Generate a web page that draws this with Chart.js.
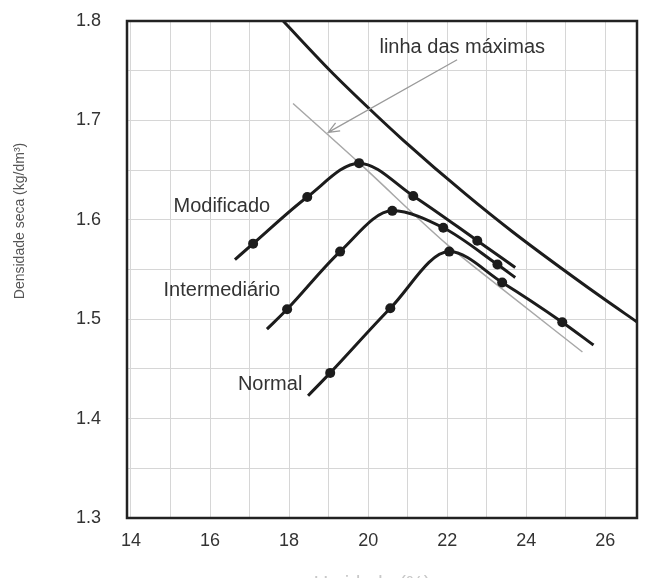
<!DOCTYPE html>
<html>
<head>
<meta charset="utf-8">
<script src="https://cdn.jsdelivr.net/npm/chart.js@4"></script>
<style>
  body { margin: 0; background: #fff; }
  canvas { display: block; }
</style>
</head>
<body>
<canvas id="chart" width="649" height="578"></canvas>
<script>
// axis ticks
const xGrid = [14, 15, 16, 17, 18, 19, 20, 21, 22, 23, 24, 25, 26];
const xLabelled = [14, 16, 18, 20, 22, 24, 26];
const yGrid = [1.3, 1.35, 1.4, 1.45, 1.5, 1.55, 1.6, 1.65, 1.7, 1.75, 1.8];
const yLabelled = [1.3, 1.4, 1.5, 1.6, 1.7, 1.8];

// compaction curves (1 = measured point with marker)
const modUmidade = [16.63, 17.09, 18.46, 19.77, 21.14, 22.76, 23.72];
const modDensidade = [1.560, 1.576, 1.623, 1.657, 1.624, 1.579, 1.552];
const modMarcas = [0, 1, 1, 1, 1, 1, 0];

const intUmidade = [17.44, 17.95, 19.29, 20.61, 21.9, 23.27, 23.72];
const intDensidade = [1.490, 1.510, 1.568, 1.609, 1.592, 1.555, 1.542];
const intMarcas = [0, 1, 1, 1, 1, 1, 0];

const norUmidade = [18.48, 19.04, 20.56, 22.05, 23.39, 24.91, 25.7];
const norDensidade = [1.423, 1.446, 1.511, 1.568, 1.537, 1.497, 1.474];
const norMarcas = [0, 1, 1, 1, 1, 1, 0];

// saturation curve (thick) and line of optimums (thin grey)
const satUmidade = [17.85, 19.04, 19.97, 20.89, 22.46, 23.65, 25.87, 26.81];
const satDensidade = [1.8, 1.750, 1.714, 1.680, 1.626, 1.588, 1.523, 1.497];

const maxUmidade = [18.1, 19.75, 22.0, 23.34, 25.42];
const maxDensidade = [1.717, 1.658, 1.575, 1.532, 1.467];

// labels placed on the plot, in data units
const labels = [
  { text: "linha das máximas", x: 22.38, y: 1.773 },
  { text: "Modificado", x: 16.3, y: 1.613 },
  { text: "Intermediário", x: 16.3, y: 1.529 },
  { text: "Normal", x: 17.52, y: 1.434 },
];
const arrowFrom = { x: 22.25, y: 1.761 };
const arrowTo = { x: 18.99, y: 1.688 };

const FONT = "'Liberation Sans', Arial, sans-serif";
const ink = "#1c1c1c";

const toPoints = (xs, ys) => xs.map((x, i) => ({ x: x, y: ys[i] }));
const radii = (marks) => marks.map((m) => (m ? 5 : 0));

const curve = (label, xs, ys, marks) => ({
  label: label,
  data: toPoints(xs, ys),
  showLine: true,
  borderColor: ink,
  backgroundColor: ink,
  borderWidth: 3,
  pointRadius: radii(marks),
  pointBorderWidth: 0,
  cubicInterpolationMode: "monotone",
  order: 1,
});

// frame, free text, arrow and axis titles
const extras = {
  id: "extras",
  afterDraw(chart) {
    const ctx = chart.ctx;
    const a = chart.chartArea;
    const xs = chart.scales.x;
    const ys = chart.scales.y;

    ctx.save();
    ctx.strokeStyle = "#222";
    ctx.lineWidth = 2.5;
    ctx.strokeRect(a.left, a.top, a.right - a.left, a.bottom - a.top);

    // arrow
    const x1 = xs.getPixelForValue(arrowFrom.x), y1 = ys.getPixelForValue(arrowFrom.y);
    const x2 = xs.getPixelForValue(arrowTo.x), y2 = ys.getPixelForValue(arrowTo.y);
    const ang = Math.atan2(y2 - y1, x2 - x1);
    ctx.strokeStyle = "#9a9a9a";
    ctx.lineWidth = 1.3;
    ctx.beginPath();
    ctx.moveTo(x1, y1);
    ctx.lineTo(x2, y2);
    ctx.moveTo(x2 - 12 * Math.cos(ang - 0.4), y2 - 12 * Math.sin(ang - 0.4));
    ctx.lineTo(x2, y2);
    ctx.lineTo(x2 - 12 * Math.cos(ang + 0.4), y2 - 12 * Math.sin(ang + 0.4));
    ctx.stroke();

    // text on plot
    ctx.fillStyle = "#333";
    ctx.font = "20px " + FONT;
    ctx.textAlign = "center";
    ctx.textBaseline = "middle";
    labels.forEach((l) => {
      ctx.fillText(l.text, xs.getPixelForValue(l.x), ys.getPixelForValue(l.y));
    });

    // y title
    ctx.save();
    ctx.translate(20, 221);
    ctx.rotate(-Math.PI / 2);
    ctx.fillStyle = "#555";
    ctx.font = "14px " + FONT;
    ctx.fillText("Densidade seca (kg/dm³)", 0, 0);
    ctx.restore();

    // x title, mostly cut off at the bottom edge
    ctx.fillStyle = "#c8c8c8";
    ctx.font = "20px " + FONT;
    ctx.textBaseline = "top";
    ctx.fillText("Umidade (%)", 372, 574);
    ctx.restore();
  },
};

new Chart(document.getElementById("chart"), {
  type: "scatter",
  data: {
    datasets: [
      curve("Modificado", modUmidade, modDensidade, modMarcas),
      curve("Intermediário", intUmidade, intDensidade, intMarcas),
      curve("Normal", norUmidade, norDensidade, norMarcas),
      {
        label: "saturação",
        data: toPoints(satUmidade, satDensidade),
        showLine: true,
        borderColor: ink,
        borderWidth: 3,
        pointRadius: 0,
        cubicInterpolationMode: "monotone",
        order: 2,
      },
      {
        label: "linha das máximas",
        data: toPoints(maxUmidade, maxDensidade),
        showLine: true,
        borderColor: "#a8a8a8",
        borderWidth: 1.5,
        pointRadius: 0,
        cubicInterpolationMode: "monotone",
        order: 10,
      },
    ],
  },
  options: {
    responsive: false,
    animation: false,
    devicePixelRatio: 1,
    layout: { padding: { top: 21, right: 12, left: 0, bottom: 0 } },
    plugins: {
      legend: { display: false },
      tooltip: { enabled: false },
    },
    scales: {
      x: {
        type: "linear",
        min: 13.9,
        max: 26.8,
        afterBuildTicks: (scale) => {
          scale.ticks = xGrid.map((v) => ({ value: v }));
        },
        afterFit: (scale) => {
          scale.height = 60;
        },
        grid: { color: "#d6d6d6", lineWidth: 1, drawTicks: true, tickLength: 12, tickColor: "rgba(0,0,0,0)" },
        border: { display: false },
        ticks: {
          padding: 0,
          color: "#333",
          font: { family: FONT, size: 18 },
          callback: (v) => (xLabelled.includes(v) ? String(v) : ""),
        },
      },
      y: {
        type: "linear",
        min: 1.3,
        max: 1.8,
        afterBuildTicks: (scale) => {
          scale.ticks = yGrid.map((v) => ({ value: v }));
        },
        afterFit: (scale) => {
          scale.width = 127;
        },
        grid: { color: "#d6d6d6", lineWidth: 1, drawTicks: true, tickLength: 26, tickColor: "rgba(0,0,0,0)" },
        border: { display: false },
        ticks: {
          padding: 0,
          color: "#333",
          font: { family: FONT, size: 18 },
          callback: (v) => {
            const r = Math.round(v * 100) / 100;
            return yLabelled.includes(r) ? r.toFixed(1) : "";
          },
        },
      },
    },
  },
  plugins: [extras],
});
</script>
</body>
</html>
